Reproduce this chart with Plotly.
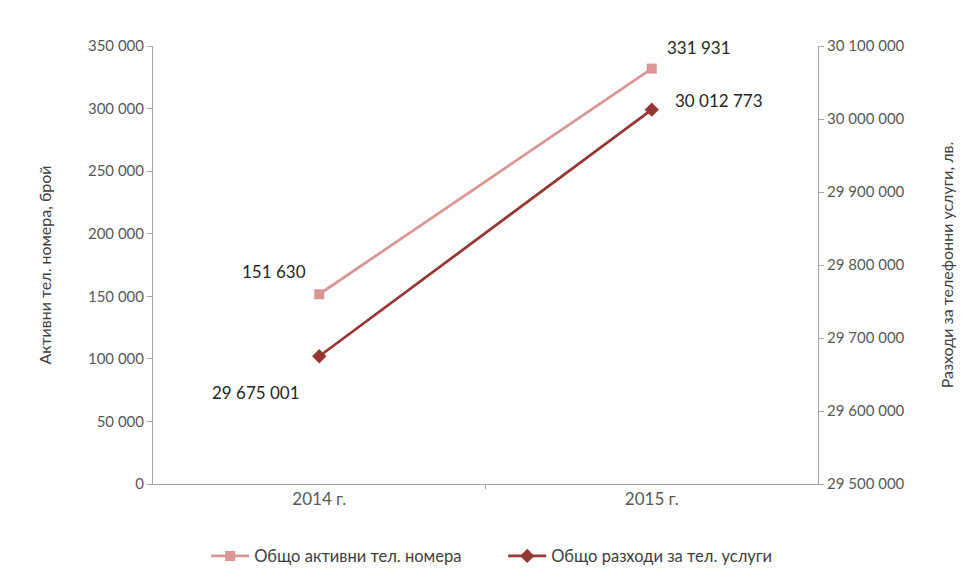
import plotly.graph_objects as go

categories = ["2014 г.", "2015 г."]
active_numbers = [151630, 331931]
total_expenses = [29675001, 30012773]
series_names = ["Общо активни тел. номера", "Общо разходи за тел. услуги"]
left_title = "Активни тел. номера, брой"
right_title = "Разходи за телефонни услуги, лв."

light = "#D99694"
dark = "#953735"
grey_axis = "#A6A6A6"
tick_col = "#595959"
FONT = "Lato"

def fmt(v):
    return f"{v:,}".replace(",", " ")

fig = go.Figure()
fig.add_trace(go.Scatter(
    x=categories, y=active_numbers, name=series_names[0], yaxis="y",
    mode="lines+markers",
    line=dict(color=light, width=2.75),
    marker=dict(symbol="square", size=10, color=light),
))
fig.add_trace(go.Scatter(
    x=categories, y=total_expenses, name=series_names[1], yaxis="y2",
    mode="lines+markers",
    line=dict(color=dark, width=2.75),
    marker=dict(symbol="diamond", size=11, color=dark),
))

# data labels (offsets only, anchored to data values)
label_offsets_active = [(-45, 23), (47, 21)]
label_offsets_exp = [(-63, -36), (67, 9)]
annotations = []
for c, v, (dx, dy) in zip(categories, active_numbers, label_offsets_active):
    annotations.append(dict(x=c, y=v, xref="x", yref="y", text=fmt(v), showarrow=False,
                            xshift=dx, yshift=dy, font=dict(size=17, color="#262626", family=FONT)))
for c, v, (dx, dy) in zip(categories, total_expenses, label_offsets_exp):
    annotations.append(dict(x=c, y=v, xref="x", yref="y2", text=fmt(v), showarrow=False,
                            xshift=dx, yshift=dy, font=dict(size=17, color="#262626", family=FONT)))

fig.update_layout(
    width=971, height=570,
    paper_bgcolor="white", plot_bgcolor="white",
    margin=dict(l=145, r=161, t=38, b=94, autoexpand=False),
    font=dict(family=FONT, size=15, color=tick_col),
    separators=", ",
    showlegend=True,
    legend=dict(orientation="h", x=0.08, xanchor="left", y=-0.125, yanchor="top",
                font=dict(size=16.5, color="#404040", family=FONT), itemwidth=38,
                entrywidth=244, traceorder="normal"),
    annotations=annotations,
    xaxis=dict(
        type="category", range=[-0.5, 1.5], showgrid=False,
        showline=True, linecolor=grey_axis, linewidth=1,
        ticks="", tickfont=dict(size=17, color=tick_col),
        zeroline=False, automargin=False,
    ),
    yaxis=dict(
        range=[0, 350000], dtick=50000, tickformat=",d",
        showgrid=False, zeroline=False, automargin=False,
        showline=True, linecolor=grey_axis, linewidth=1,
        ticks="outside", ticklen=5, tickcolor=grey_axis,
        tickfont=dict(size=15, color=tick_col),
        title=dict(text=left_title, font=dict(size=16, color="#404040"), standoff=32),
    ),
    yaxis2=dict(
        range=[29500000, 30100000], dtick=100000, tickformat=",d",
        overlaying="y", side="right", automargin=False,
        showgrid=False, zeroline=False,
        showline=True, linecolor=grey_axis, linewidth=1,
        ticks="outside", ticklen=5, tickcolor=grey_axis,
        tickfont=dict(size=15, color=tick_col),
        title=dict(text=right_title, font=dict(size=16, color="#404040"), standoff=38),
    ),
)

# middle category divider tick on x axis
fig.add_shape(type="line", xref="x", yref="paper", x0=0.5, x1=0.5, y0=0, y1=-0.012,
              line=dict(color=grey_axis, width=1))

fig.write_html("out.html")
